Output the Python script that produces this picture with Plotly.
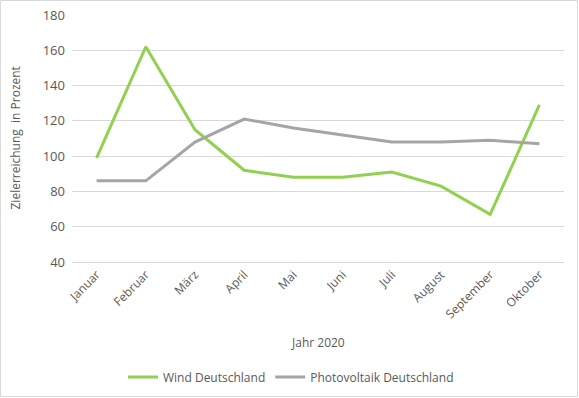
import plotly.graph_objects as go

months = ["Januar", "Februar", "März", "April", "Mai", "Juni", "Juli", "August", "September", "Oktober"]
wind = [99, 162, 115, 92, 88, 88, 91, 83, 67, 129]
pv = [86, 86, 108, 121, 116, 112, 108, 108, 109, 107]

W, H = 579, 398
ml, mr, mt, mb = 72, 15, 15, 136
txt = "#595959"
font = "Open Sans, Segoe UI, sans-serif"

fig = go.Figure()
fig.add_trace(go.Scatter(x=months, y=wind, mode="lines", name="Wind Deutschland",
                         line=dict(color="#92D050", width=3)))
fig.add_trace(go.Scatter(x=months, y=pv, mode="lines", name="Photovoltaik Deutschland",
                         line=dict(color="#A5A5A5", width=3)))

pw = W - ml - mr
ph = H - mt - mb
fig.add_shape(type="rect", xref="paper", yref="paper",
              x0=(-ml + 0.5) / pw, x1=1 + (mr - 1.5) / pw,
              y0=(-mb + 1.5) / ph, y1=1 + (mt - 0.5) / ph,
              line=dict(color="#D9D9D9", width=1), layer="below")

fig.add_annotation(text="Zielerreichung  in Prozent", xref="paper", yref="paper",
                   x=(15 - ml) / pw, y=0.5, textangle=-90, showarrow=False,
                   xanchor="center", yanchor="middle", font=dict(size=12, color=txt))
fig.add_annotation(text="Jahr 2020", xref="paper", yref="paper",
                   x=0.5, y=-(342 - mt - ph) / ph, showarrow=False,
                   xanchor="center", yanchor="middle", font=dict(size=12, color=txt))

fig.update_layout(
    width=W, height=H,
    margin=dict(l=ml, r=mr, t=mt, b=mb, autoexpand=False),
    paper_bgcolor="white", plot_bgcolor="white",
    font=dict(family=font, size=12, color=txt),
    showlegend=True,
    legend=dict(orientation="h", x=(291 - ml) / pw, xanchor="center", y=-(377 - mt - ph) / ph, yanchor="middle",
                font=dict(size=12, color=txt), itemwidth=30, tracegroupgap=0),
    xaxis=dict(type="category", range=[-0.5, 9.5], tickangle=-45, automargin=False,
               showgrid=False, showline=True, linecolor="#D9D9D9",
               ticks="", tickfont=dict(size=12, color=txt)),
    yaxis=dict(range=[40, 180], dtick=20, showgrid=True, gridcolor="#D9D9D9", automargin=False,
               zeroline=False, ticks="", ticklabelstandoff=6, tickfont=dict(size=13, color=txt)),
)

fig.write_html("out.html", config={"displayModeBar": False},
               post_script="document.body.style.margin='0';document.body.style.overflow='hidden';")
